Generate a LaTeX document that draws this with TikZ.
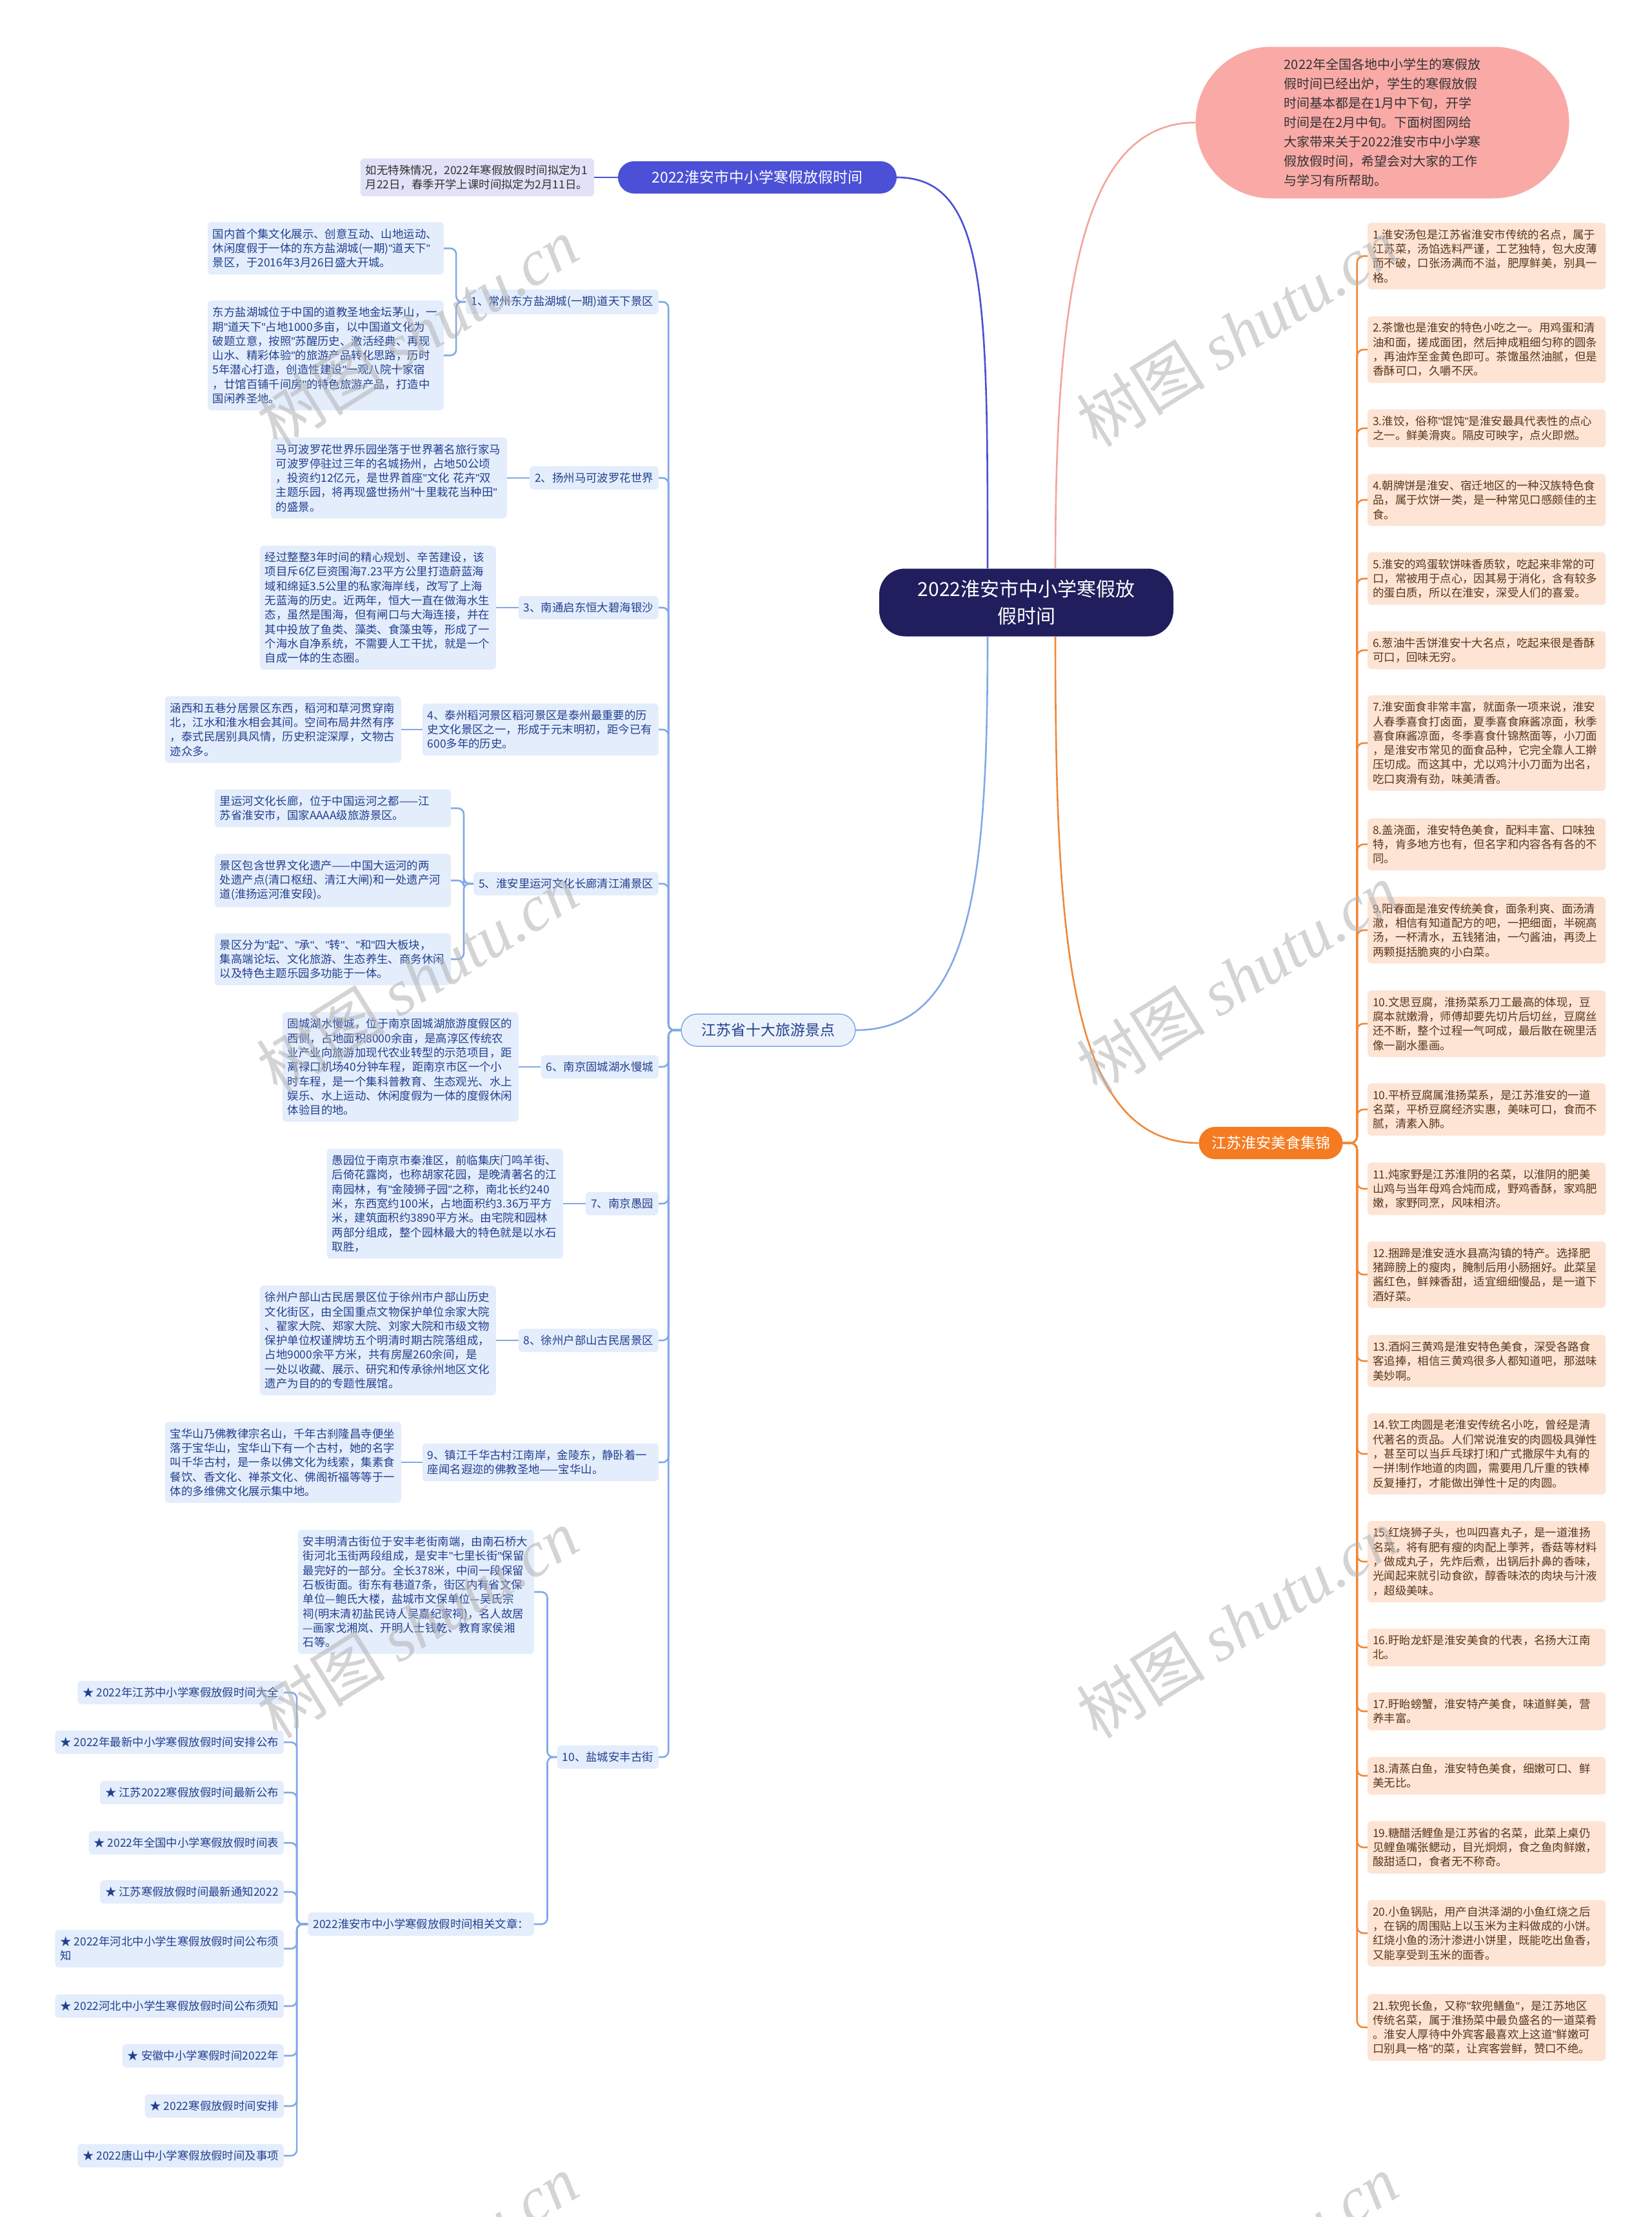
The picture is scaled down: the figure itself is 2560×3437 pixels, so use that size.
\documentclass[tikz,border=0pt]{standalone}
\usepackage{fontspec}
\setmainfont{Noto Sans CJK SC}
\newfontfamily\wmserif{Liberation Serif}
\newfontfamily\latinq{Liberation Sans}
\newcommand{\dq}{{\latinq"}}
\usetikzlibrary{calc}

\definecolor{navybox}{HTML}{211E5E}
\definecolor{pinkbub}{HTML}{F9AAA6}
\definecolor{royal}{HTML}{4B50D6}
\definecolor{lav}{HTML}{E1E1F7}
\definecolor{skyfill}{HTML}{E4EDFC}
\definecolor{skytext}{HTML}{22408E}
\definecolor{skyline}{HTML}{82A9E6}
\definecolor{orng}{HTML}{F47B22}
\definecolor{orline}{HTML}{F0893A}
\definecolor{peach}{HTML}{FDE4D4}
\definecolor{brn}{HTML}{5A361C}
\definecolor{salmon}{HTML}{F3A59C}

\begin{document}
\begin{tikzpicture}[x=1pt, y=-1pt,
    ctrbox/.style={fill=navybox, text=white, rounded corners=40pt, minimum width=456pt, minimum height=105pt, align=center, font=\fontsize{30}{41.6}\selectfont},
    bubble/.style={fill=pinkbub, text=black!80, rounded corners=117pt, minimum width=579pt, minimum height=235pt, align=left, font=\fontsize{20}{30}\selectfont},
    branch/.style={rounded corners=25pt, minimum height=50pt, align=center, font=\fontsize{23}{28}\selectfont},
    note/.style={fill=lav, text=black!80, rounded corners=6pt, inner xsep=8pt, inner ysep=10pt, text width=346pt, align=left, font=\fontsize{17.4}{22.3}\selectfont},
    spot/.style={fill=skyfill, text=skytext, rounded corners=6pt, inner xsep=8pt, inner ysep=10pt, align=left, font=\fontsize{17.4}{22.3}\selectfont},
    wide/.style={text width=350pt},
    dish/.style={fill=peach, text=brn, rounded corners=6pt, inner xsep=8pt, inner ysep=10pt, text width=353pt, align=left, font=\fontsize{17.4}{22.3}\selectfont},
    tline/.style={draw=skyline, line width=2.6pt, rounded corners=9pt},
    fline/.style={draw=orline, line width=2.6pt, rounded corners=10pt},
    wm/.style={text=black!30, text opacity=0.55, rotate=32, font=\fontsize{100}{110}\selectfont}]

\useasboundingbox (0,0) rectangle (2560,3437);
\fill[white] (0,0) rectangle (2560,3437);

% centre and main branches
\node[ctrbox] (ctr) at (1591,934) {2022淮安市中小学寒假放\\假时间};
\node[bubble] (bub) at (2143,190) {2022年全国各地中小学生的寒假放\\假时间已经出炉，学生的寒假放假\\时间基本都是在1月中下旬，开学\\时间是在2月中旬。下面树图网给\\大家带来关于2022淮安市中小学寒\\假放假时间，希望会对大家的工作\\与学习有所帮助。};
\node[branch, fill=royal, text=white, minimum width=432pt] (top) at (1174,275) {2022淮安市中小学寒假放假时间};
\node[note, anchor=east] (topnote) at (921,275) {如无特殊情况，2022年寒假放假时间拟定为1\\月22日，春季开学上课时间拟定为2月11日。};
\node[branch, fill=skyfill!80!skyline!40, draw=skyline, line width=1.5pt, text=skytext, minimum width=270pt] (tour) at (1191,1597) {江苏省十大旅游景点};
\node[branch, fill=orng, text=white, minimum width=223pt] (food) at (1970,1772) {江苏淮安美食集锦};

\draw[royal, line width=2.6pt] ($(ctr.north)+(-60,0)$) .. controls +(0,-420) and +(140,0) .. (top.east);
\draw[royal, line width=2.6pt] (topnote.east) -- (top.west);
\draw[salmon, line width=2.6pt] ($(ctr.north)+(45,0)$) .. controls +(0,-420) and +(-180,0) .. (bub.west);
\draw[skyline, line width=2.6pt] ($(ctr.south)+(-60,0)$) .. controls +(0,380) and +(180,0) .. (tour.east);
\draw[orline, line width=2.6pt] ($(ctr.south)+(45,0)$) .. controls +(0,480) and +(-200,0) .. (food.west);

% tourist spots
\node[spot, anchor=east] (n1) at (1021,468) {1、常州东方盐湖城(一期)道天下景区};
\node[spot, anchor=east] (n2) at (1021,741) {2、扬州马可波罗花世界};
\node[spot, anchor=east] (n3) at (1021,942) {3、南通启东恒大碧海银沙};
\node[spot, wide, anchor=east] (n4) at (1021,1131) {4、泰州稻河景区稻河景区是泰州最重要的历\\史文化景区之一，形成于元末明初，距今已有\\600多年的历史。};
\node[spot, anchor=east] (n5) at (1021,1370) {5、淮安里运河文化长廊清江浦景区};
\node[spot, anchor=east] (n6) at (1021,1654) {6、南京固城湖水慢城};
\node[spot, anchor=east] (n7) at (1021,1866) {7、南京愚园};
\node[spot, anchor=east] (n8) at (1021,2078) {8、徐州户部山古民居景区};
\node[spot, wide, anchor=east] (n9) at (1021,2267) {9、镇江千华古村江南岸，金陵东，静卧着一\\座闻名遐迩的佛教圣地——宝华山。};
\node[spot, anchor=east] (n10) at (1021,2724) {10、盐城安丰古街};

\node[spot, wide, anchor=east] (l1a) at (688,385) {国内首个集文化展示、创意互动、山地运动、\\休闲度假于一体的东方盐湖城(一期)\dq{}道天下\dq{}\\景区，于2016年3月26日盛大开城。};
\node[spot, wide, anchor=east] (l1b) at (688,551) {东方盐湖城位于中国的道教圣地金坛茅山，一\\期\dq{}道天下\dq{}占地1000多亩，以中国道文化为\\破题立意，按照\dq{}苏醒历史、激活经典、再现\\山水、精彩体验\dq{}的旅游产品转化思路，历时\\5年潜心打造，创造性建设\dq{}一观八院十家宿\\，廿馆百铺千间房\dq{}的特色旅游产品，打造中\\国闲养圣地。};
\node[spot, wide, anchor=east] (l2) at (786,741) {马可波罗花世界乐园坐落于世界著名旅行家马\\可波罗停驻过三年的名城扬州，占地50公顷\\，投资约12亿元，是世界首座\dq{}文化~花卉\dq{}双\\主题乐园，将再现盛世扬州\dq{}十里栽花当种田\dq{}\\的盛景。};
\node[spot, wide, anchor=east] (l3) at (769,942) {经过整整3年时间的精心规划、辛苦建设，该\\项目斥6亿巨资围海7.23平方公里打造蔚蓝海\\域和绵延3.5公里的私家海岸线，改写了上海\\无蓝海的历史。近两年，恒大一直在做海水生\\态，虽然是围海，但有闸口与大海连接，并在\\其中投放了鱼类、藻类、食藻虫等，形成了一\\个海水自净系统，不需要人工干扰，就是一个\\自成一体的生态圈。};
\node[spot, wide, anchor=east] (l4) at (622,1131) {涵西和五巷分居景区东西，稻河和草河贯穿南\\北，江水和淮水相会其间。空间布局井然有序\\，泰式民居别具风情，历史积淀深厚，文物古\\迹众多。};
\node[spot, wide, anchor=east] (l5a) at (699,1253) {里运河文化长廊，位于中国运河之都——江\\苏省淮安市，国家AAAA级旅游景区。};
\node[spot, wide, anchor=east] (l5b) at (699,1365) {景区包含世界文化遗产——中国大运河的两\\处遗产点(清口枢纽、清江大闸)和一处遗产河\\道(淮扬运河淮安段)。};
\node[spot, wide, anchor=east] (l5c) at (699,1487) {景区分为\dq{}起\dq{}、\dq{}承\dq{}、\dq{}转\dq{}、\dq{}和\dq{}四大板块，\\集高端论坛、文化旅游、生态养生、商务休闲\\以及特色主题乐园多功能于一体。};
\node[spot, wide, anchor=east] (l6) at (804,1654) {固城湖水慢城，位于南京固城湖旅游度假区的\\西侧，占地面积8000余亩，是高淳区传统农\\业产业向旅游加现代农业转型的示范项目，距\\离禄口机场40分钟车程，距南京市区一个小\\时车程，是一个集科普教育、生态观光、水上\\娱乐、水上运动、休闲度假为一体的度假休闲\\体验目的地。};
\node[spot, wide, anchor=east] (l7) at (873,1866) {愚园位于南京市秦淮区，前临集庆门鸣羊街、\\后倚花露岗，也称胡家花园，是晚清著名的江\\南园林，有\dq{}金陵狮子园\dq{}之称，南北长约240\\米，东西宽约100米，占地面积约3.36万平方\\米，建筑面积约3890平方米。由宅院和园林\\两部分组成，整个园林最大的特色就是以水石\\取胜，};
\node[spot, wide, anchor=east] (l8) at (769,2078) {徐州户部山古民居景区位于徐州市户部山历史\\文化街区，由全国重点文物保护单位余家大院\\、翟家大院、郑家大院、刘家大院和市级文物\\保护单位权谨牌坊五个明清时期古院落组成，\\占地9000余平方米，共有房屋260余间，是\\一处以收藏、展示、研究和传承徐州地区文化\\遗产为目的的专题性展馆。};
\node[spot, wide, anchor=east] (l9) at (622,2267) {宝华山乃佛教律宗名山，千年古刹隆昌寺便坐\\落于宝华山，宝华山下有一个古村，她的名字\\叫千华古村，是一条以佛文化为线索，集素食\\餐饮、香文化、禅茶文化、佛阁祈福等等于一\\体的多维佛文化展示集中地。};
\node[spot, wide, anchor=east] (l10a) at (828,2468) {安丰明清古街位于安丰老街南端，由南石桥大\\街河北玉街两段组成，是安丰\dq{}七里长街\dq{}保留\\最完好的一部分。全长378米，中间一段保留\\石板街面。街东有巷道7条，街区内有省文保\\单位—鲍氏大楼，盐城市文保单位—吴氏宗\\祠(明末清初盐民诗人吴嘉纪家祠)，名人故居\\—画家戈湘岚、开明人士钱乾、教育家侯湘\\石等。};
\node[spot, anchor=east] (l10b) at (828,2983) {2022淮安市中小学寒假放假时间相关文章：};

\foreach \n/\y/\txt in {1/2624/{2022年江苏中小学寒假放假时间大全}, 2/2701/{2022年最新中小学寒假放假时间安排公布}, 3/2779/{江苏2022寒假放假时间最新公布}, 4/2857/{2022年全国中小学寒假放假时间表}, 5/2933/{江苏寒假放假时间最新通知2022}, 6/3021/{2022年河北中小学生寒假放假时间公布须\\知}, 7/3110/{2022河北中小学生寒假放假时间公布须知}, 8/3187/{安徽中小学寒假时间2022年}, 9/3265/{2022寒假放假时间安排}, 10/3342/{2022唐山中小学寒假放假时间及事项}} {
    \node[spot, anchor=east] (s\n) at (440,\y) {★ \txt};
    \draw[tline] (l10b.west) -- ++(-17,0) |- (s\n.east);
}

\foreach \c in {n1,n2,n3,n4,n5,n6,n7,n8,n9,n10}
    \draw[tline] (tour.west) -- ++(-19,0) |- (\c.east);
\foreach \p/\c in {n1/l1a, n1/l1b, n5/l5a, n5/l5b, n5/l5c, n10/l10a, n10/l10b}
    \draw[tline] (\p.west) -- ++(-15,0) |- (\c.east);
\foreach \p/\c in {n2/l2, n3/l3, n4/l4, n6/l6, n7/l7, n8/l8, n9/l9}
    \draw[tline] (\p.west) -- (\c.east);

% food
\foreach \n/\y/\txt in {
    1/397/{1.淮安汤包是江苏省淮安市传统的名点，属于\\江苏菜，汤馅选料严谨，工艺独特，包大皮薄\\而不破，口张汤满而不溢，肥厚鲜美，别具一\\格。},
    2/542/{2.茶馓也是淮安的特色小吃之一。用鸡蛋和清\\油和面，搓成面团，然后抻成粗细匀称的圆条\\，再油炸至金黄色即可。茶馓虽然油腻，但是\\香酥可口，久嚼不厌。},
    3/664/{3.淮饺，俗称\dq{}馄饨\dq{}是淮安最具代表性的点心\\之一。鲜美滑爽。隔皮可映字，点火即燃。},
    4/775/{4.朝牌饼是淮安、宿迁地区的一种汉族特色食\\品，属于炊饼一类，是一种常见口感颇佳的主\\食。},
    5/897/{5.淮安的鸡蛋软饼味香质软，吃起来非常的可\\口，常被用于点心，因其易于消化，含有较多\\的蛋白质，所以在淮安，深受人们的喜爱。},
    6/1008/{6.葱油牛舌饼淮安十大名点，吃起来很是香酥\\可口，回味无穷。},
    7/1152/{7.淮安面食非常丰富，就面条一项来说，淮安\\人春季喜食打卤面，夏季喜食麻酱凉面，秋季\\喜食麻酱凉面，冬季喜食什锦熬面等，小刀面\\，是淮安市常见的面食品种，它完全靠人工擀\\压切成。而这其中，尤以鸡汁小刀面为出名，\\吃口爽滑有劲，味美清香。},
    8/1309/{8.盖浇面，淮安特色美食，配料丰富、口味独\\特，肯多地方也有，但名字和内容各有各的不\\同。},
    9/1442/{9.阳春面是淮安传统美食，面条利爽、面汤清\\澈，相信有知道配方的吧，一把细面，半碗高\\汤，一杯清水，五钱猪油，一勺酱油，再烫上\\两颗挺括脆爽的小白菜。},
    10/1587/{10.文思豆腐，淮扬菜系刀工最高的体现，豆\\腐本就嫩滑，师傅却要先切片后切丝，豆腐丝\\还不断，整个过程一气呵成，最后散在碗里活\\像一副水墨画。},
    11/1720/{10.平桥豆腐属淮扬菜系，是江苏淮安的一道\\名菜，平桥豆腐经济实惠，美味可口，食而不\\腻，清素入肺。},
    12/1843/{11.炖家野是江苏淮阴的名菜，以淮阴的肥美\\山鸡与当年母鸡合炖而成，野鸡香酥，家鸡肥\\嫩，家野同烹，风味相济。},
    13/1976/{12.捆蹄是淮安涟水县高沟镇的特产。选择肥\\猪蹄膀上的瘦肉，腌制后用小肠捆好。此菜呈\\酱红色，鲜辣香甜，适宜细细慢品，是一道下\\酒好菜。},
    14/2110/{13.酒焖三黄鸡是淮安特色美食，深受各路食\\客追捧，相信三黄鸡很多人都知道吧，那滋味\\美妙啊。},
    15/2254/{14.钦工肉圆是老淮安传统名小吃，曾经是清\\代著名的贡品。人们常说淮安的肉圆极具弹性\\，甚至可以当乒乓球打!和广式撒尿牛丸有的\\一拼!制作地道的肉圆，需要用几斤重的铁棒\\反复捶打，才能做出弹性十足的肉圆。},
    16/2421/{15.红烧狮子头，也叫四喜丸子，是一道淮扬\\名菜，将有肥有瘦的肉配上荸荠，香菇等材料\\，做成丸子，先炸后煮，出锅后扑鼻的香味，\\光闻起来就引动食欲，醇香味浓的肉块与汁液\\，超级美味。},
    17/2554/{16.盱眙龙虾是淮安美食的代表，名扬大江南\\北。},
    18/2653/{17.盱眙螃蟹，淮安特产美食，味道鲜美，营\\养丰富。},
    19/2753/{18.清蒸白鱼，淮安特色美食，细嫩可口、鲜\\美无比。},
    20/2864/{19.糖醋活鲤鱼是江苏省的名菜，此菜上桌仍\\见鲤鱼嘴张鳃动，目光炯炯，食之鱼肉鲜嫩，\\酸甜适口，食者无不称奇。},
    21/2997/{20.小鱼锅贴，用产自洪泽湖的小鱼红烧之后\\，在锅的周围贴上以玉米为主料做成的小饼。\\红烧小鱼的汤汁渗进小饼里，既能吃出鱼香，\\又能享受到玉米的面香。},
    22/3143/{21.软兜长鱼，又称\dq{}软兜鳝鱼\dq{}，是江苏地区\\传统名菜，属于淮扬菜中最负盛名的一道菜肴\\。淮安人厚待中外宾客最喜欢上这道\dq{}鲜嫩可\\口别具一格\dq{}的菜，让宾客尝鲜，赞口不绝。}} {
    \node[dish, anchor=west] (f\n) at (2120,\y) {\txt};
    \draw[fline] (food.east) -- ++(22,0) |- (f\n.west);
}

% watermark
\foreach \i/\x/\y in {1/647/515, 2/1918/515, 3/647/1516, 4/1918/1516, 5/647/2517, 6/1918/2517, 7/647/3518, 8/1918/3518}
    \node[wm] (w\i) at (\x,\y) {树图 {\wmserif\itshape shutu.cn}};
\end{tikzpicture}
\end{document}
